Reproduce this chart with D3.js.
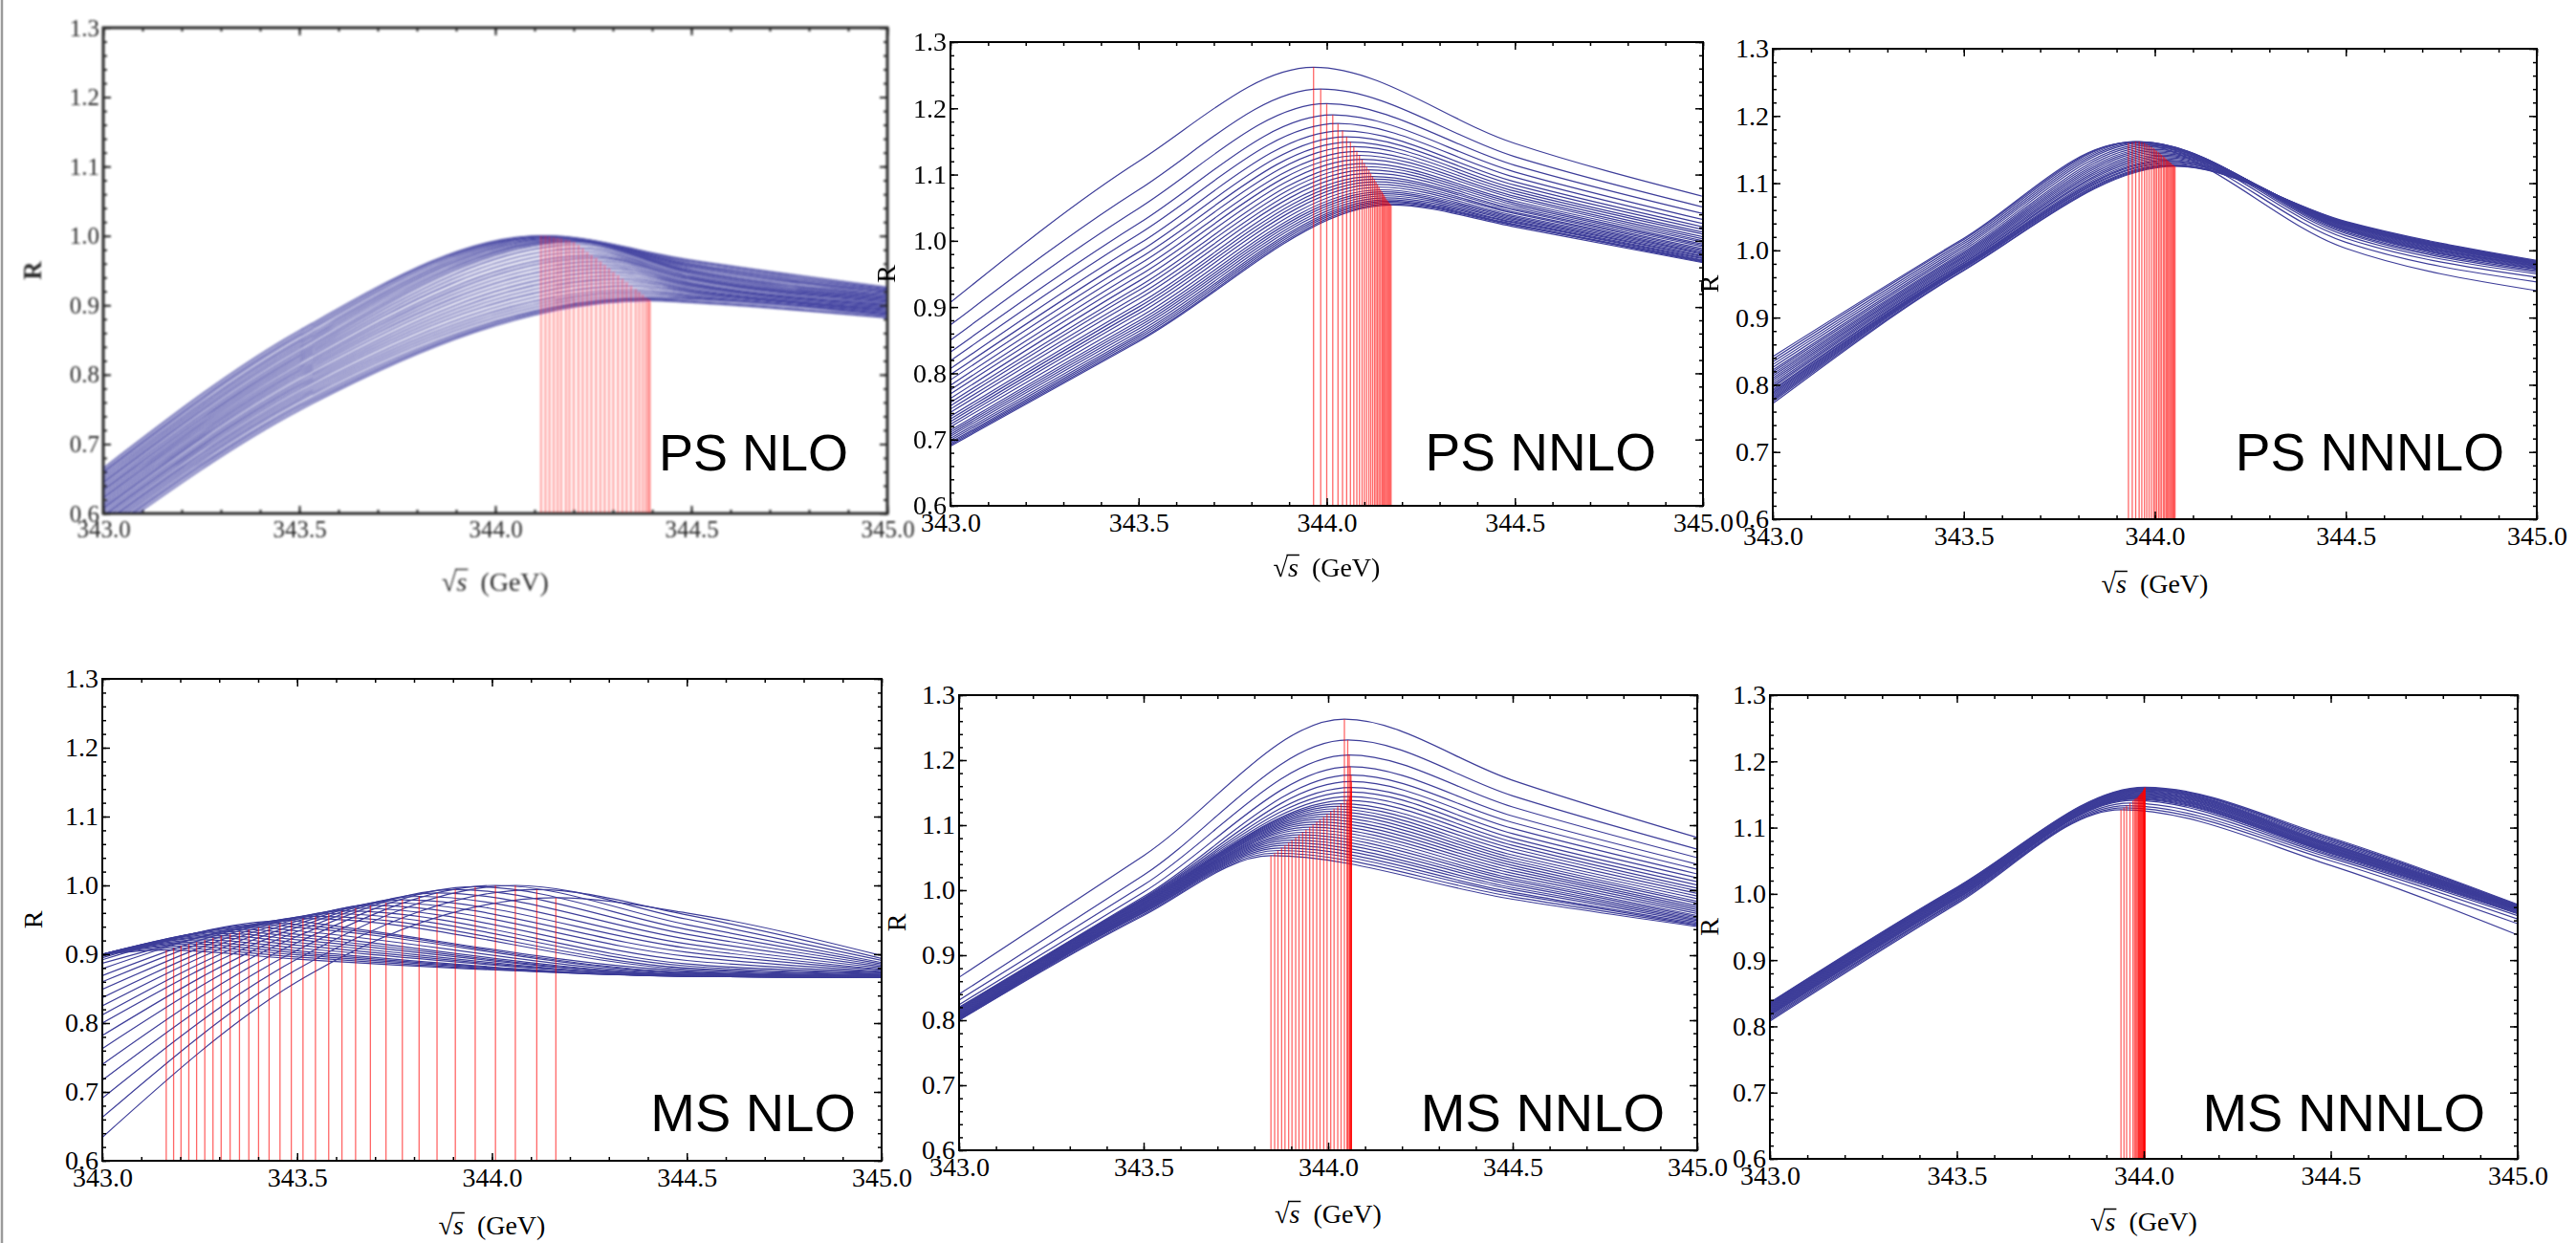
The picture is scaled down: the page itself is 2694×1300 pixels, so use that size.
<!DOCTYPE html>
<html>
<head>
<meta charset="utf-8">
<script src="https://cdn.jsdelivr.net/npm/d3@7"></script>
<style>
  body { margin: 0; background: #fff; }
  svg { display: block; }
</style>
</head>
<body>
<svg id="chart" width="2694" height="1300"></svg>
<script>
// ---- axis ticks ----
var xTickValues = [343.0, 343.5, 344.0, 344.5, 345.0];
var yTickValues = [0.6, 0.7, 0.8, 0.9, 1.0, 1.1, 1.2, 1.3];

// ---- PS NLO ----
var psNloPeakX = [344.117,344.128,344.138,344.149,344.159,344.168,344.180,344.189,344.200,344.212,344.223,344.234,344.245,344.257,344.268,344.279,344.290,344.301,344.313,344.324,344.335,344.346,344.358,344.367,344.376,344.384,344.390,344.394];
var psNloPeakY = [1.000,1.000,0.999,0.998,0.997,0.996,0.994,0.993,0.991,0.987,0.982,0.977,0.972,0.968,0.963,0.958,0.953,0.948,0.943,0.938,0.933,0.928,0.923,0.919,0.915,0.911,0.909,0.907];
var psNloAt3430 = [0.665,0.661,0.658,0.654,0.650,0.646,0.643,0.639,0.635,0.632,0.628,0.624,0.621,0.617,0.613,0.609,0.606,0.602,0.598,0.595,0.591,0.587,0.584,0.580,0.576,0.572,0.569,0.565];
var psNloAt3435 = [0.863,0.859,0.855,0.850,0.846,0.842,0.838,0.833,0.829,0.825,0.821,0.817,0.812,0.808,0.804,0.800,0.796,0.791,0.787,0.783,0.779,0.774,0.770,0.766,0.762,0.757,0.753,0.749];
var psNloAt3445 = [0.965,0.963,0.960,0.958,0.956,0.954,0.951,0.949,0.947,0.945,0.942,0.940,0.938,0.936,0.933,0.931,0.929,0.927,0.924,0.922,0.920,0.918,0.915,0.913,0.911,0.909,0.906,0.904];
var psNloAt3450 = [0.926,0.924,0.923,0.921,0.919,0.918,0.916,0.915,0.913,0.911,0.910,0.908,0.906,0.905,0.903,0.901,0.900,0.898,0.896,0.895,0.893,0.892,0.890,0.888,0.887,0.885,0.883,0.882];

// ---- PS NNLO ----
var psNnloPeakX = [343.965,343.984,344.000,344.016,344.030,344.042,344.053,344.063,344.072,344.080,344.087,344.094,344.100,344.106,344.112,344.117,344.122,344.127,344.131,344.135,344.139,344.143,344.147,344.150,344.153,344.156,344.159,344.162,344.165,344.168,344.171];
var psNnloPeakY = [1.262,1.229,1.207,1.190,1.177,1.166,1.157,1.149,1.142,1.135,1.129,1.123,1.117,1.112,1.107,1.102,1.097,1.093,1.089,1.085,1.081,1.077,1.074,1.071,1.068,1.065,1.062,1.060,1.058,1.056,1.054];
var psNnloAt3430 = [0.907,0.873,0.850,0.832,0.819,0.807,0.798,0.790,0.782,0.775,0.769,0.762,0.756,0.751,0.746,0.741,0.735,0.731,0.727,0.723,0.719,0.714,0.711,0.708,0.705,0.702,0.699,0.696,0.694,0.692,0.690];
var psNnloAt3435 = [1.120,1.077,1.049,1.026,1.010,0.995,0.983,0.973,0.964,0.955,0.947,0.939,0.931,0.925,0.918,0.912,0.905,0.900,0.895,0.890,0.884,0.879,0.875,0.871,0.867,0.863,0.859,0.856,0.853,0.850,0.848];
var psNnloAt3445 = [1.147,1.127,1.114,1.104,1.096,1.089,1.084,1.079,1.075,1.071,1.067,1.064,1.060,1.057,1.054,1.051,1.048,1.046,1.043,1.041,1.038,1.036,1.034,1.032,1.030,1.028,1.027,1.025,1.024,1.023,1.021];
var psNnloAt3450 = [1.067,1.051,1.041,1.032,1.026,1.021,1.017,1.013,1.010,1.006,1.003,1.000,0.998,0.995,0.993,0.991,0.988,0.986,0.984,0.982,0.981,0.979,0.977,0.976,0.974,0.973,0.971,0.970,0.969,0.968,0.967];

// ---- PS NNNLO ----
var psN3loPeakX = [343.931,343.941,343.950,343.959,343.966,343.973,343.979,343.985,343.991,343.997,344.001,344.005,344.010,344.014,344.018,344.023,344.026,344.030,344.033,344.036,344.039,344.042,344.045,344.048,344.050,344.053];
var psN3loPeakY = [1.160,1.161,1.162,1.162,1.161,1.160,1.158,1.156,1.154,1.152,1.150,1.148,1.146,1.144,1.142,1.140,1.138,1.136,1.134,1.133,1.131,1.130,1.128,1.127,1.126,1.125];
var psN3loAt3430 = [0.842,0.838,0.834,0.830,0.826,0.822,0.819,0.816,0.813,0.810,0.807,0.804,0.801,0.798,0.796,0.793,0.791,0.789,0.787,0.785,0.783,0.781,0.779,0.777,0.775,0.772];
var psN3loAt3435 = [1.018,1.016,1.013,1.010,1.007,1.004,1.001,0.998,0.996,0.994,0.992,0.990,0.988,0.986,0.984,0.982,0.981,0.979,0.978,0.977,0.976,0.975,0.974,0.973,0.971,0.970];
var psN3loAt3445 = [1.003,1.012,1.018,1.022,1.025,1.027,1.029,1.030,1.031,1.032,1.033,1.034,1.035,1.036,1.037,1.038,1.038,1.039,1.039,1.040,1.040,1.041,1.041,1.042,1.042,1.043];
var psN3loAt3450 = [0.940,0.953,0.960,0.965,0.968,0.970,0.972,0.973,0.974,0.975,0.976,0.977,0.977,0.978,0.979,0.979,0.980,0.980,0.981,0.981,0.982,0.982,0.983,0.983,0.984,0.985];

// ---- MS NLO ----
var msNloPeakX = [343.164,343.183,343.202,343.222,343.242,343.263,343.284,343.305,343.328,343.352,343.376,343.401,343.428,343.456,343.485,343.515,343.547,343.581,343.615,343.650,343.688,343.728,343.770,343.813,343.859,343.906,343.957,344.009,344.060,344.115,344.164];
var msNloPeakY = [0.906,0.909,0.912,0.915,0.918,0.921,0.924,0.927,0.930,0.933,0.936,0.939,0.942,0.945,0.949,0.952,0.955,0.959,0.963,0.967,0.971,0.975,0.979,0.984,0.989,0.994,0.998,1.000,1.000,0.994,0.982];
var msNloAt3430 = [0.900,0.900,0.900,0.900,0.900,0.900,0.900,0.900,0.900,0.900,0.900,0.899,0.897,0.895,0.892,0.887,0.879,0.869,0.860,0.849,0.837,0.825,0.812,0.800,0.782,0.763,0.740,0.717,0.691,0.663,0.634];
var msNloAt3435 = [0.893,0.896,0.899,0.902,0.905,0.909,0.913,0.917,0.921,0.925,0.929,0.934,0.939,0.943,0.948,0.951,0.953,0.954,0.954,0.953,0.951,0.948,0.944,0.939,0.933,0.926,0.917,0.906,0.893,0.878,0.860];
var msNloAt3445 = [0.868,0.868,0.868,0.868,0.868,0.869,0.869,0.869,0.870,0.870,0.871,0.872,0.873,0.874,0.876,0.878,0.880,0.883,0.886,0.891,0.897,0.903,0.909,0.915,0.922,0.929,0.936,0.943,0.951,0.957,0.960];
var msNloAt3450 = [0.866,0.866,0.866,0.866,0.866,0.866,0.867,0.867,0.867,0.867,0.868,0.868,0.868,0.869,0.869,0.870,0.871,0.872,0.873,0.874,0.875,0.877,0.878,0.880,0.882,0.884,0.886,0.888,0.891,0.894,0.898];

// ---- MS NNLO ----
var msNnloPeakX = [344.044,344.053,344.057,344.060,344.062,344.063,344.063,344.062,344.058,344.051,344.035,344.026,344.016,344.007,343.997,343.988,343.978,343.969,343.959,343.950,343.940,343.931,343.921,343.912,343.902,343.893,343.883,343.874,343.864,343.855,343.845];
var msNnloPeakY = [1.263,1.231,1.208,1.190,1.177,1.167,1.158,1.151,1.144,1.138,1.133,1.129,1.125,1.121,1.117,1.113,1.109,1.105,1.101,1.097,1.093,1.089,1.085,1.081,1.077,1.073,1.069,1.065,1.061,1.057,1.053];
var msNnloAt3430 = [0.866,0.840,0.831,0.824,0.820,0.819,0.818,0.817,0.816,0.815,0.814,0.813,0.812,0.811,0.810,0.809,0.808,0.807,0.806,0.806,0.805,0.804,0.804,0.803,0.803,0.802,0.802,0.801,0.801,0.800,0.800];
var msNnloAt3435 = [1.053,1.023,1.008,0.997,0.990,0.988,0.987,0.986,0.985,0.984,0.983,0.982,0.981,0.980,0.979,0.978,0.977,0.976,0.975,0.974,0.973,0.972,0.971,0.970,0.969,0.968,0.967,0.966,0.965,0.963,0.961];
var msNnloAt3445 = [1.169,1.145,1.128,1.114,1.104,1.095,1.087,1.080,1.074,1.069,1.064,1.059,1.054,1.050,1.046,1.042,1.038,1.034,1.030,1.026,1.022,1.018,1.015,1.011,1.008,1.004,1.001,0.997,0.994,0.990,0.986];
var msNnloAt3450 = [1.081,1.063,1.050,1.040,1.032,1.025,1.019,1.013,1.008,1.003,0.999,0.995,0.991,0.987,0.983,0.980,0.976,0.973,0.970,0.967,0.964,0.961,0.959,0.957,0.955,0.953,0.951,0.949,0.947,0.946,0.944];

// ---- MS NNNLO ----
var msN3loPeakX = [343.939,343.947,343.954,343.963,343.971,343.975,343.978,343.981,343.984,343.986,343.987,343.989,343.990,343.992,343.993,343.995,343.996,343.998,343.999,344.000,344.001,344.001,344.002,344.002,344.003,344.003];
var msN3loPeakY = [1.127,1.130,1.133,1.137,1.141,1.143,1.144,1.145,1.146,1.147,1.148,1.149,1.150,1.151,1.152,1.153,1.154,1.155,1.156,1.157,1.158,1.158,1.159,1.160,1.160,1.161];
var msN3loAt3430 = [0.808,0.810,0.812,0.814,0.816,0.817,0.818,0.819,0.820,0.821,0.822,0.823,0.824,0.825,0.826,0.827,0.828,0.829,0.830,0.831,0.832,0.833,0.834,0.835,0.835,0.836];
var msN3loAt3435 = [0.985,0.987,0.989,0.990,0.992,0.993,0.994,0.995,0.996,0.997,0.998,0.999,1.000,1.001,1.002,1.003,1.004,1.005,1.005,1.006,1.007,1.007,1.008,1.009,1.009,1.010];
var msN3loAt3445 = [1.043,1.050,1.054,1.057,1.059,1.061,1.062,1.063,1.064,1.065,1.066,1.067,1.068,1.069,1.070,1.071,1.072,1.073,1.074,1.075,1.076,1.078,1.080,1.082,1.083,1.085];
var msN3loAt3450 = [0.938,0.955,0.962,0.967,0.970,0.971,0.972,0.973,0.974,0.975,0.976,0.976,0.977,0.977,0.978,0.978,0.979,0.979,0.980,0.980,0.981,0.981,0.982,0.982,0.983,0.984];

// panel layout (pixel boxes of the frames, label anchors)
var panels = [
  { name: "PS NLO", peakX: psNloPeakX, peakY: psNloPeakY, a0: psNloAt3430, a1: psNloAt3435, a2: psNloAt3445, a3: psNloAt3450,
    l: 108, r: 928, t: 29, b: 537, soft: true, labelX: 887, labelY: 492, labelSize: 54, rX: 34, titleY: 618 },
  { name: "PS NNLO", peakX: psNnloPeakX, peakY: psNnloPeakY, a0: psNnloAt3430, a1: psNnloAt3435, a2: psNnloAt3445, a3: psNnloAt3450,
    l: 994, r: 1781, t: 44, b: 529, labelX: 1732, labelY: 492, labelSize: 55, rX: 926, titleY: 603 },
  { name: "PS NNNLO", peakX: psN3loPeakX, peakY: psN3loPeakY, a0: psN3loAt3430, a1: psN3loAt3435, a2: psN3loAt3445, a3: psN3loAt3450,
    l: 1854, r: 2653, t: 51, b: 543, labelX: 2619, labelY: 492, labelSize: 55, rX: 1787, titleY: 620 },
  { name: "MS NLO", peakX: msNloPeakX, peakY: msNloPeakY, a0: msNloAt3430, a1: msNloAt3435, a2: msNloAt3445, a3: msNloAt3450,
    l: 107, r: 922, t: 710, b: 1214, labelX: 895, labelY: 1183, labelSize: 56, rX: 34, titleY: 1291 },
  { name: "MS NNLO", peakX: msNnloPeakX, peakY: msNnloPeakY, a0: msNnloAt3430, a1: msNnloAt3435, a2: msNnloAt3445, a3: msNnloAt3450,
    l: 1003, r: 1775, t: 727, b: 1203, labelX: 1741, labelY: 1183, labelSize: 56, rX: 937, titleY: 1279 },
  { name: "MS NNNLO", peakX: msN3loPeakX, peakY: msN3loPeakY, a0: msN3loAt3430, a1: msN3loAt3435, a2: msN3loAt3445, a3: msN3loAt3450,
    l: 1851, r: 2633, t: 727, b: 1212, labelX: 2599, labelY: 1183, labelSize: 56, rX: 1787, titleY: 1287 }
];

var svg = d3.select("#chart");
var defs = svg.append("defs");
defs.append("filter").attr("id", "soft")
    .attr("x", "-5%").attr("y", "-5%").attr("width", "110%").attr("height", "110%")
  .append("feGaussianBlur").attr("stdDeviation", 0.9);

// grey page edge on the left
svg.append("line").attr("x1", 2).attr("x2", 2).attr("y1", 0).attr("y2", 1300)
    .attr("stroke", "#9a9a9a").attr("stroke-width", 2.5);

var serif = "'Liberation Serif', 'Times New Roman', serif";
var fmt = d3.format(".1f");

panels.forEach(function(p, k) {
    var x = d3.scaleLinear().domain([343, 345]).range([p.l, p.r]);
    var y = d3.scaleLinear().domain([0.6, 1.3]).range([p.b, p.t]);
    var ink = p.soft ? "#2e2e2e" : "#000";
    var fs = p.soft ? 25 : 28;

    var g = svg.append("g");
    if (p.soft) g.attr("filter", "url(#soft)");

    defs.append("clipPath").attr("id", "clip" + k)
      .append("rect").attr("x", p.l).attr("y", p.t)
        .attr("width", p.r - p.l).attr("height", p.b - p.t);
    var plot = g.append("g").attr("clip-path", "url(#clip" + k + ")");

    // monotone keeps each curve's maximum exactly at its red line
    var line = d3.line()
        .x(function(d) { return x(d[0]); })
        .y(function(d) { return y(d[1]); })
        .curve(d3.curveMonotoneX);

    var curves = p.peakX.map(function(px, i) {
        return [[343.0, p.a0[i]], [343.5, p.a1[i]], [px, p.peakY[i]], [344.5, p.a2[i]], [345.0, p.a3[i]]]
            .sort(function(a, b) { return a[0] - b[0]; });
    });

    plot.selectAll("path.curve").data(curves).join("path")
        .attr("class", "curve")
        .attr("d", line)
        .attr("fill", "none")
        .attr("stroke", p.soft ? "#4747a3" : "#3d3d99")
        .attr("stroke-width", p.soft ? 1.4 : 1.2);

    // red drop lines from each curve's maximum
    plot.selectAll("line.peak").data(p.peakX).join("line")
        .attr("class", "peak")
        .attr("x1", function(d) { return x(d); })
        .attr("x2", function(d) { return x(d); })
        .attr("y1", y(0.6))
        .attr("y2", function(d, i) { return y(p.peakY[i]); })
        .attr("stroke", "#ff0000")
        .attr("stroke-opacity", 0.6)
        .attr("stroke-width", 1.3);

    function tidy(sel) {
        sel.attr("font-family", null).attr("font-size", null);
        sel.select(".domain").remove();
        sel.selectAll(".tick line").attr("stroke", ink).attr("stroke-width", p.soft ? 2 : 1.5);
        sel.selectAll(".tick text")
            .attr("fill", ink)
            .style("font-family", serif)
            .style("font-size", fs + "px");
    }

    var minorX = x.ticks(20), minorY = y.ticks(35);

    g.append("g").attr("transform", "translate(0," + p.b + ")")
        .call(d3.axisBottom(x).tickValues(xTickValues).tickSize(-8).tickPadding(7).tickFormat(fmt)).call(tidy);
    g.append("g").attr("transform", "translate(0," + p.b + ")")
        .call(d3.axisBottom(x).tickValues(minorX).tickSize(-4).tickFormat("")).call(tidy);
    g.append("g").attr("transform", "translate(0," + p.t + ")")
        .call(d3.axisTop(x).tickValues(xTickValues).tickSize(-8).tickFormat("")).call(tidy);
    g.append("g").attr("transform", "translate(0," + p.t + ")")
        .call(d3.axisTop(x).tickValues(minorX).tickSize(-4).tickFormat("")).call(tidy);

    g.append("g").attr("transform", "translate(" + p.l + ",0)")
        .call(d3.axisLeft(y).tickValues(yTickValues).tickSize(-8).tickPadding(4).tickFormat(fmt)).call(tidy);
    g.append("g").attr("transform", "translate(" + p.l + ",0)")
        .call(d3.axisLeft(y).tickValues(minorY).tickSize(-4).tickFormat("")).call(tidy);
    g.append("g").attr("transform", "translate(" + p.r + ",0)")
        .call(d3.axisRight(y).tickValues(yTickValues).tickSize(-8).tickFormat("")).call(tidy);
    g.append("g").attr("transform", "translate(" + p.r + ",0)")
        .call(d3.axisRight(y).tickValues(minorY).tickSize(-4).tickFormat("")).call(tidy);

    // frame
    g.append("rect")
        .attr("x", p.l).attr("y", p.t)
        .attr("width", p.r - p.l).attr("height", p.b - p.t)
        .attr("fill", "none")
        .attr("stroke", ink)
        .attr("stroke-width", p.soft ? 3 : 2);

    // y title
    g.append("text")
        .attr("transform", "translate(" + p.rX + "," + ((p.t + p.b) / 2) + ") rotate(-90)")
        .attr("text-anchor", "middle")
        .attr("dy", "0.35em")
        .attr("fill", ink)
        .style("font-family", serif)
        .style("font-size", (p.soft ? 27 : 28) + "px")
        .style("font-weight", p.soft ? "bold" : "normal")
        .text("R");

    // x title: sqrt(s) (GeV)
    var title = g.append("text")
        .attr("x", (p.l + p.r) / 2)
        .attr("y", p.titleY)
        .attr("text-anchor", "middle")
        .attr("fill", ink)
        .style("font-family", serif)
        .style("font-size", "28px");
    title.append("tspan").text("\u221A");
    title.append("tspan").style("font-style", "italic").text("s");
    title.append("tspan").text("\u2002(GeV)");
    var node = title.node();
    var c0 = node.getExtentOfChar(0), c1 = node.getExtentOfChar(1);
    g.append("line")
        .attr("x1", c0.x + c0.width - 1.5)
        .attr("x2", c1.x + c1.width + 1)
        .attr("y1", p.titleY - 22.5)
        .attr("y2", p.titleY - 22.5)
        .attr("stroke", ink)
        .attr("stroke-width", 1.5);

    // order label
    svg.append("text")
        .attr("x", p.labelX)
        .attr("y", p.labelY)
        .attr("text-anchor", "end")
        .style("font-family", "'Liberation Sans', Arial, sans-serif")
        .style("font-size", p.labelSize + "px")
        .attr("fill", "#000")
        .text(p.name);
});
</script>
</body>
</html>
